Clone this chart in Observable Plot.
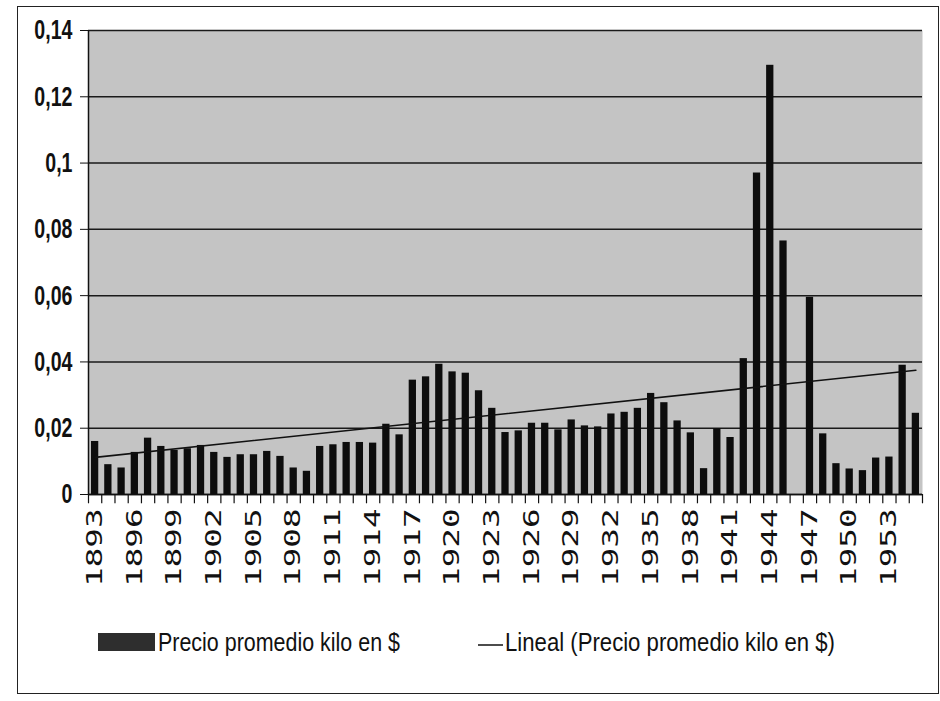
<!DOCTYPE html>
<html><head><meta charset="utf-8">
<script src="https://cdn.jsdelivr.net/npm/d3@7"></script>
<script src="https://cdn.jsdelivr.net/npm/@observablehq/plot@0.6"></script>
<style>
body{margin:0;background:#fff;}
#wrap{position:relative;width:940px;height:701px;overflow:hidden;}
#frame{position:absolute;left:17px;top:6px;width:922px;height:688px;border:1.5px solid #222;box-sizing:border-box;}
#chart{position:absolute;left:0;top:0;}
#legend{position:absolute;left:0;top:620px;}
</style></head><body>
<div id="wrap"><div id="chart"></div><div id="frame"></div>
<svg id="legend" width="940" height="50"></svg></div>
<script>
const years = [1893,1894,1895,1896,1897,1898,1899,1900,1901,1902,1903,1904,1905,1906,1907,1908,1909,1910,1911,1912,1913,1914,1915,1916,1917,1918,1919,1920,1921,1922,1923,1924,1925,1926,1927,1928,1929,1930,1931,1932,1933,1934,1935,1936,1937,1938,1939,1940,1941,1942,1943,1944,1945,1946,1947,1948,1949,1950,1951,1952,1953,1954,1955];
const prices = [0.016,0.009,0.008,0.0127,0.017,0.0145,0.0133,0.0138,0.0148,0.0127,0.0112,0.012,0.012,0.013,0.0115,0.008,0.007,0.0145,0.015,0.0157,0.0157,0.0155,0.0212,0.018,0.0345,0.0355,0.0393,0.037,0.0366,0.0313,0.026,0.0187,0.0192,0.0215,0.0215,0.0195,0.0225,0.0207,0.0204,0.0243,0.0248,0.026,0.0305,0.0277,0.0222,0.0186,0.0078,0.0198,0.0172,0.041,0.097,0.1295,0.0765,null,0.0595,0.0183,0.0093,0.0077,0.0072,0.011,0.0113,0.039,0.0245];
const yTicks = [0,0.02,0.04,0.06,0.08,0.1,0.12,0.14];
const xLabelYears = [1893,1896,1899,1902,1905,1908,1911,1914,1917,1920,1923,1926,1929,1932,1935,1938,1941,1944,1947,1950,1953];
const trendYears = [1893,1955];
const trendValues = [0.0112,0.0375];
const seriesLabel = "Precio promedio kilo en $";
const trendLabel = "Lineal (Precio promedio kilo en $)";

const data = years.map((year,i)=>({year, price: prices[i]}));
const trend = trendYears.map((year,i)=>({year, price: trendValues[i]}));
const first = years[0], last = years[years.length-1];
const boundaries = years.map(y => y - 0.5).concat([last + 0.5]);

const W = 940, H = 600, mL = 88, mR = 18, mT = 30, mB = 106;
const step = (W - mL - mR) / years.length;
const inset = step * 0.225;
const fmt = d => d === 0 ? "0" : d.toFixed(2).replace(/0+$/,"").replace(".",",");
const sans = "'Liberation Sans',Arial,sans-serif";

const chart = Plot.plot({
  width: W, height: H,
  marginLeft: mL, marginRight: mR, marginTop: mT, marginBottom: mB,
  style: {background: "transparent", fontFamily: sans, color: "#111"},
  x: {type: "linear", domain: [first - 0.5, last + 0.5], axis: null},
  y: {domain: [0, 0.14], axis: null},
  marks: [
    Plot.frame({fill: "#c4c4c4", stroke: "none"}),
    Plot.gridY(yTicks, {stroke: "#1a1a1a", strokeOpacity: 1, strokeWidth: 1.5}),
    Plot.rectY(data.filter(d => d.price != null), {x1: d => d.year - 0.5, x2: d => d.year + 0.5, y: "price", insetLeft: inset, insetRight: inset, fill: "#0d0d0d"}),
    Plot.line(trend, {x: "year", y: "price", stroke: "#111", strokeWidth: 1.6}),
    Plot.ruleY([0], {stroke: "#111", strokeWidth: 1.5}),
    Plot.ruleX([first - 0.5], {y1: 0, y2: 0.14, stroke: "#111", strokeWidth: 1.5}),
    Plot.ruleX(boundaries, {y1: 0, y2: -0.0028, stroke: "#111", strokeWidth: 1.2}),
    Plot.axisY(yTicks, {label: null, tickSize: 8, tickPadding: 8, tickFormat: fmt, fontSize: 28, fontWeight: "bold"}),
    Plot.text(xLabelYears, {x: d => d, y: 0, text: d => String(d), rotate: -90, textAnchor: "end", dy: 14, fontSize: 21, fill: "#111"})
  ]
});
document.getElementById("chart").append(chart);
const svg = d3.select(chart);
svg.selectAll("text").filter(function(){ return /^\d{4}$/.test(this.textContent); })
  .style("font-family", "'DejaVu Sans Mono',monospace")
  .attr("transform", function(){ return (this.getAttribute("transform") || "") + " scale(1.55,1)"; });
svg.selectAll("text").filter(function(){ return /^0(,\d+)?$/.test(this.textContent); })
  .attr("transform", function(){
    const x = +(this.getAttribute("x") || 0);
    return (this.getAttribute("transform") || "") + ` translate(${x},0) scale(0.7,1) translate(${-x},0)`;
  });

const lg = d3.select("#legend");
lg.append("rect").attr("x", 98).attr("y", 13).attr("width", 57).attr("height", 18).attr("fill", "#2e2e2e");
lg.append("text").attr("x", 158).attr("y", 31).style("font-family", sans).attr("font-size", 25).attr("fill", "#111")
  .attr("textLength", 242).attr("lengthAdjust", "spacingAndGlyphs").text(seriesLabel);
lg.append("line").attr("x1", 478).attr("x2", 503).attr("y1", 25).attr("y2", 25).attr("stroke", "#111").attr("stroke-width", 1.5);
lg.append("text").attr("x", 505).attr("y", 31).style("font-family", sans).attr("font-size", 25).attr("fill", "#111")
  .attr("textLength", 330).attr("lengthAdjust", "spacingAndGlyphs").text(trendLabel);
</script>
</body></html>
